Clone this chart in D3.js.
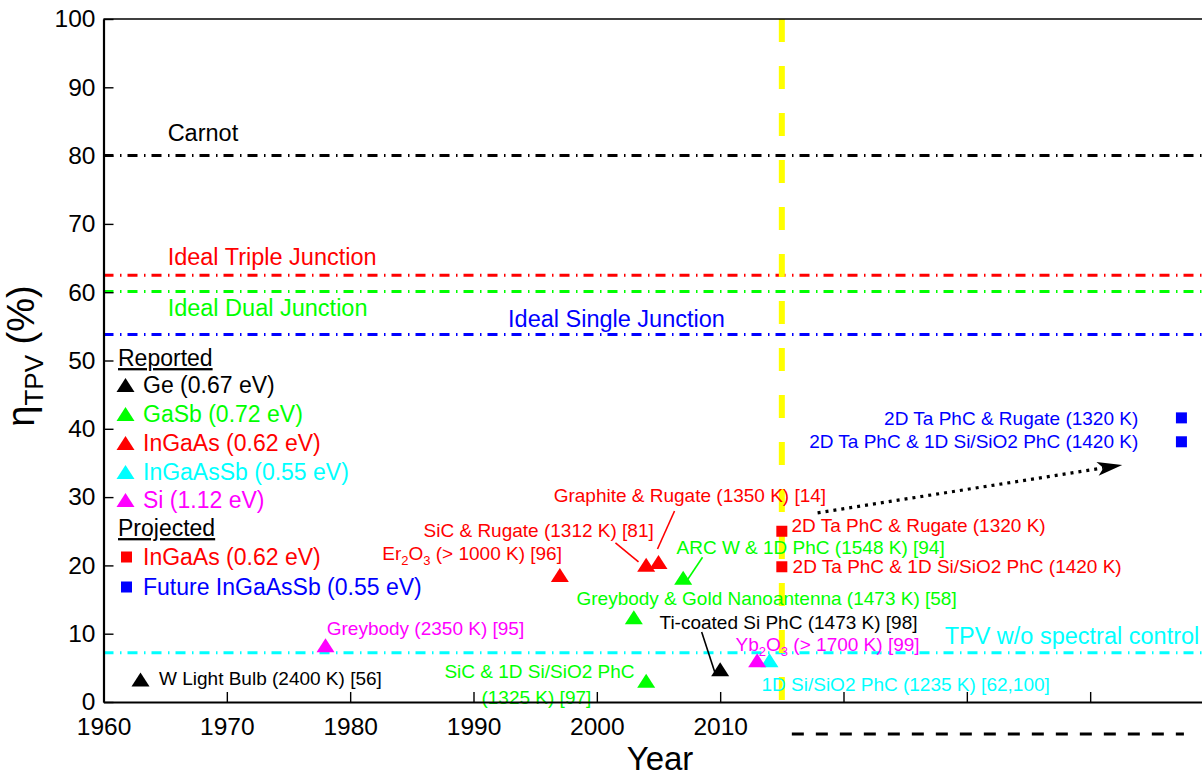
<!DOCTYPE html>
<html>
<head>
<meta charset="utf-8">
<script src="https://cdn.jsdelivr.net/npm/d3@7"></script>
<style>
  html, body { margin: 0; padding: 0; background: #fff; }
  svg { display: block; font-family: "Liberation Sans", Arial, Helvetica, sans-serif; }
</style>
</head>
<body>
<svg id="chart" width="1202" height="772"></svg>
<script>
// ---- data: TPV efficiency (%) by year ----
const geYear = [1963, 2010];
const geEff = [3.3, 4.8];
const gasbYear = [2003, 2004, 2007];
const gasbEff = [12.4, 3.1, 18.2];
const ingaasYear = [1997, 2004, 2005];
const ingaasEff = [18.6, 20.1, 20.5];
const ingaassbYear = [2014];
const ingaassbEff = [6.1];
const siYear = [1978, 2013];
const siEff = [8.3, 6.1];
const projectedYear = [2015, 2015];
const projectedEff = [25.0, 19.8];
const futureYear = [2047.4, 2047.4];
const futureEff = [41.6, 38.1];

const limitNames = ["Carnot", "Ideal Triple Junction", "Ideal Dual Junction", "Ideal Single Junction", "TPV w/o spectral control"];
const limitEff = [80, 62.5, 60.1, 53.8, 7.2];

const todayYear = 2015;
const arrowFrom = [2017.9, 27.7];
const arrowTo = [2042.6, 34.7];

const yTicks = [0, 10, 20, 30, 40, 50, 60, 70, 80, 90, 100];
const xTicks = [1960, 1970, 1980, 1990, 2000, 2010, 2020, 2030, 2040, 2050];
const xTickLabels = ["1960", "1970", "1980", "1990", "2000", "2010"];

// ---- styling ----
const C = { k: "#000000", g: "#00ff00", r: "#ff0000", c: "#00ffff", m: "#ff00ff", b: "#0000ff", y: "#ffff00" };

const reported = [
  { name: "Ge (0.67 eV)", color: C.k, xs: geYear, ys: geEff },
  { name: "GaSb (0.72 eV)", color: C.g, xs: gasbYear, ys: gasbEff },
  { name: "InGaAs (0.62 eV)", color: C.r, xs: ingaasYear, ys: ingaasEff },
  { name: "InGaAsSb (0.55 eV)", color: C.c, xs: ingaassbYear, ys: ingaassbEff },
  { name: "Si (1.12 eV)", color: C.m, xs: siYear, ys: siEff }
];
const projected = [
  { name: "InGaAs (0.62 eV)", color: C.r, xs: projectedYear, ys: projectedEff },
  { name: "Future InGaAsSb (0.55 eV)", color: C.b, xs: futureYear, ys: futureEff }
];
const limitColors = [C.k, C.r, C.g, C.b, C.c];
// label anchors for the limit lines, in (year, %)
const limitLabelAt = [[1965.2, 83.3], [1965.2, 65.2], [1965.2, 57.7], [1992.8, 56.1], [2028.2, 9.7]];

const svg = d3.select("#chart");
const x = d3.scaleLinear().domain([1960, 2050]).range([103.5, 1213.5]);
const y = d3.scaleLinear().domain([0, 100]).range([702, 19]);

const triangle = "M0,-7L9,7L-9,7Z";

// limit lines (dash-dot)
svg.append("g").selectAll("line").data(limitEff).join("line")
  .attr("x1", x(1960)).attr("x2", 1202)
  .attr("y1", d => y(d)).attr("y2", d => y(d))
  .attr("stroke", (d, i) => limitColors[i])
  .attr("stroke-width", 3)
  .attr("stroke-dasharray", "10,6.5,1.5,6");

svg.append("g").selectAll("text").data(limitNames).join("text")
  .attr("x", (d, i) => x(limitLabelAt[i][0]))
  .attr("y", (d, i) => y(limitLabelAt[i][1]))
  .attr("dy", "0.35em")
  .attr("font-size", 23.5)
  .attr("fill", (d, i) => limitColors[i])
  .text(d => d);

// present-day marker
svg.append("line")
  .attr("x1", x(todayYear)).attr("x2", x(todayYear))
  .attr("y1", y(100)).attr("y2", y(0))
  .attr("stroke", C.y).attr("stroke-width", 6)
  .attr("stroke-dasharray", "23,24");

// future span under the axis
svg.append("line")
  .attr("x1", x(todayYear) + 10).attr("x2", x(2047.6))
  .attr("y1", 734).attr("y2", 734)
  .attr("stroke", C.k).attr("stroke-width", 3)
  .attr("stroke-dasharray", "12,12");

// projection arrow
const ax0 = x(arrowFrom[0]), ay0 = y(arrowFrom[1]), ax1 = x(arrowTo[0]), ay1 = y(arrowTo[1]);
const ang = Math.atan2(ay1 - ay0, ax1 - ax0);
svg.append("line")
  .attr("x1", ax0).attr("y1", ay0)
  .attr("x2", ax1 - 19 * Math.cos(ang)).attr("y2", ay1 - 19 * Math.sin(ang))
  .attr("stroke", C.k).attr("stroke-width", 3.2)
  .attr("stroke-dasharray", "3,5");
svg.append("path")
  .attr("d", "M0,0L-25,-7L-19,0L-25,7Z")
  .attr("transform", `translate(${ax1},${ay1}) rotate(${ang * 180 / Math.PI})`)
  .attr("fill", C.k);

// annotations: text, anchor (year, %), colour, alignment
const notes = [
  { t: "W Light Bulb (2400 K) [56]", at: [1964.5, 3.4], c: C.k },
  { t: "Greybody (2350 K) [95]", at: [1978.1, 10.8], c: C.m },
  { t: "SiC & 1D Si/SiO2 PhC", at: [1995.35, 4.5], c: C.g, a: "middle" },
  { t: "(1325 K) [97]", at: [1995.1, 0.75], c: C.g, a: "middle" },
  { t: "Greybody & Gold Nanoantenna (1473 K) [58]", at: [1998.35, 15.2], c: C.g },
  { t: "Ti-coated Si PhC (1473 K) [98]", at: [2005.08, 11.7], c: C.k },
  { sub: ["Yb", "2", "O", "3", " (> 1700 K) [99]"], at: [2011.25, 8.5], c: C.m },
  { t: "1D Si/SiO2 PhC (1235 K) [62,100]", at: [2013.35, 2.6], c: C.c },
  { t: "ARC W & 1D PhC (1548 K) [94]", at: [2006.46, 22.7], c: C.g },
  { sub: ["Er", "2", "O", "3", " (> 1000 K) [96]"], at: [1982.6, 21.8], c: C.r },
  { t: "SiC & Rugate (1312 K) [81]", at: [1985.95, 25.2], c: C.r },
  { t: "Graphite & Rugate (1350 K) [14]", at: [1996.5, 30.3], c: C.r },
  { t: "2D Ta PhC & Rugate (1320 K)", at: [2015.78, 25.8], c: C.r },
  { t: "2D Ta PhC & 1D Si/SiO2 PhC (1420 K)", at: [2015.87, 19.8], c: C.r },
  { t: "2D Ta PhC & Rugate (1320 K)", at: [2043.9, 41.6], c: C.b, a: "end" },
  { t: "2D Ta PhC & 1D Si/SiO2 PhC (1420 K)", at: [2043.9, 38.1], c: C.b, a: "end" }
];
const leaders = [
  { from: [2008.5, 10.25], to: [2009.56, 4.4], c: C.k },
  { from: [2008.57, 21.2], to: [2007.35, 17.9], c: C.g },
  { from: [2001.51, 23.3], to: [2003.38, 20.5], c: C.r },
  { from: [2006.3, 27.96], to: [2004.92, 22.4], c: C.r }
];

svg.append("g").selectAll("line").data(leaders).join("line")
  .attr("x1", d => x(d.from[0])).attr("y1", d => y(d.from[1]))
  .attr("x2", d => x(d.to[0])).attr("y2", d => y(d.to[1]))
  .attr("stroke", d => d.c).attr("stroke-width", 1.6);

const noteSel = svg.append("g").attr("font-size", 19).selectAll("text").data(notes).join("text")
  .attr("x", d => x(d.at[0])).attr("y", d => y(d.at[1]))
  .attr("dy", "0.35em")
  .attr("text-anchor", d => d.a || "start")
  .attr("fill", d => d.c);
noteSel.filter(d => d.t).text(d => d.t);
noteSel.filter(d => d.sub).each(function (d) {
  const el = d3.select(this);
  d.sub.forEach((s, i) => {
    const isSub = i === 1 || i === 3;
    const ts = el.append("tspan").text(s);
    if (isSub) ts.attr("font-size", 13).attr("dy", 5);
    else if (i > 0) ts.attr("dy", -5);
  });
});

// markers
reported.forEach(s => {
  svg.append("g").selectAll("path").data(s.xs).join("path")
    .attr("d", triangle)
    .attr("transform", (d, i) => `translate(${x(d)},${y(s.ys[i])})`)
    .attr("fill", s.color);
});
projected.forEach(s => {
  svg.append("g").selectAll("rect").data(s.xs).join("rect")
    .attr("x", d => x(d) - 5.5)
    .attr("y", (d, i) => y(s.ys[i]) - 5.5)
    .attr("width", 11).attr("height", 11)
    .attr("fill", s.color);
});

// legend
const legend = svg.append("g").attr("font-size", 23);
const rowY = [358, 385, 414, 443, 472, 500, 528, 557, 587];
legend.append("text").attr("x", 118).attr("y", rowY[0]).attr("dy", "0.35em")
  .attr("text-decoration", "underline").text("Reported");
reported.forEach((s, i) => {
  const yy = rowY[i + 1];
  legend.append("path").attr("d", triangle).attr("transform", `translate(125.5,${yy})`).attr("fill", s.color);
  legend.append("text").attr("x", 143).attr("y", yy).attr("dy", "0.35em").attr("fill", s.color).text(s.name);
});
legend.append("text").attr("x", 118).attr("y", rowY[6]).attr("dy", "0.35em")
  .attr("text-decoration", "underline").text("Projected");
projected.forEach((s, i) => {
  const yy = rowY[i + 7];
  legend.append("rect").attr("x", 121).attr("y", yy - 5.5).attr("width", 11).attr("height", 11).attr("fill", s.color);
  legend.append("text").attr("x", 143).attr("y", yy).attr("dy", "0.35em").attr("fill", s.color).text(s.name);
});

// axes
const yAxis = d3.axisLeft(y).tickValues(yTicks).tickSize(-10).tickSizeOuter(0).tickPadding(8);
const gy = svg.append("g").attr("transform", `translate(${x(1960)},0)`).call(yAxis);
gy.selectAll("text").attr("font-size", 24.5).attr("font-family", null).attr("fill", C.k);
gy.select(".domain").attr("stroke-width", 2.2);
gy.selectAll(".tick line").attr("stroke-width", 1.4);

const xAxis = d3.axisBottom(x).tickValues(xTicks).tickSize(-10).tickSizeOuter(0).tickPadding(16)
  .tickFormat((d, i) => xTickLabels[i] || "");
const gx = svg.append("g").attr("transform", `translate(0,${y(0)})`).call(xAxis);
gx.selectAll("text").attr("font-size", 24.5).attr("font-family", null).attr("fill", C.k);
gx.select(".domain").attr("stroke-width", 2.2);
gx.selectAll(".tick line").attr("stroke-width", 1.4);

// top frame
svg.append("line").attr("x1", x(1960)).attr("x2", 1202).attr("y1", y(100)).attr("y2", y(100))
  .attr("stroke", C.k).attr("stroke-width", 1.4);

// axis titles
const yt = svg.append("text").attr("transform", "translate(34,356) rotate(-90)")
  .attr("text-anchor", "middle").attr("font-size", 38);
yt.append("tspan").text("η");
yt.append("tspan").attr("font-size", 26).attr("dy", 9).text("TPV");
yt.append("tspan").attr("dy", -9).text(" (%)");

svg.append("text").attr("x", 660).attr("y", 770).attr("text-anchor", "middle")
  .attr("font-size", 33).text("Year");
</script>
</body>
</html>
